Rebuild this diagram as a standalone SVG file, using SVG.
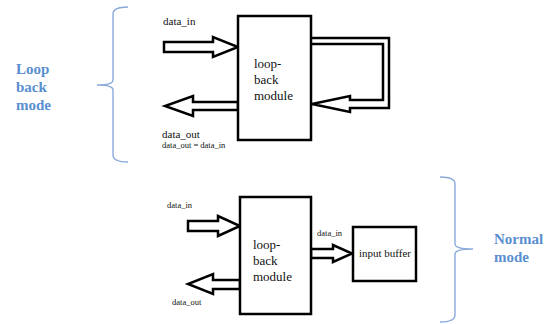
<svg xmlns="http://www.w3.org/2000/svg" width="551" height="324" viewBox="0 0 551 324">
<style>
.box{fill:#fff;stroke:#000;stroke-width:2.5}
.arr{fill:#fff;stroke:#000;stroke-width:2.5;stroke-linejoin:miter}
.brace{fill:none;stroke:#8aaad8;stroke-width:1.4}
text{font-family:"Liberation Serif","Times New Roman",Times,serif}
.t{fill:#111}
.m{font-size:13px}
.s{font-size:11px}
.xs{font-size:8.5px}
.mode{font-weight:bold;font-size:15px;fill:#5a8ed0}
</style>
<rect width="551" height="324" fill="#fff"/>
<g id="loopback-mode-label">
<path class="brace" d="M128,7 Q113,7 113,14 L113,80 Q113,85 97,85 Q113,85 113,90 L113,155 Q113,162 128,162"/>
<text class="mode" x="16" y="74">Loop</text>
<text class="mode" x="16" y="92">back</text>
<text class="mode" x="16" y="110">mode</text>
</g>
<g id="normal-mode-label">
<path class="brace" d="M440,177 Q455,177 455,184 L455,244 Q455,249 473,249 Q455,249 455,254 L455,315 Q455,322 440,322"/>
<text class="mode" x="494" y="244">Normal</text>
<text class="mode" x="494" y="262">mode</text>
</g>
<g id="connectors">
<polygon class="arr" points="164,42 213,42 213,37 238,47 213,57 213,52 164,52"/>
<polygon class="arr" points="238,102 193,102 193,96 165,106 193,116 193,110 238,110"/>
<polyline class="arr" points="311,38 389,38 389,108 350,108 350,112 312,104 350,96 350,100 383,100 383,44 311,44"/>
<polygon class="arr" points="188,221 218,221 218,216 240,226 218,236 218,231 188,231"/>
<polygon class="arr" points="240,280 213,280 213,274 188,284 213,294 213,289 240,289"/>
<polygon class="arr" points="311,249 333,249 333,245 352,253.5 333,262 333,258 311,258"/>
</g>
<g id="loopback-top">
<rect class="box" x="238" y="16" width="73" height="124"/>
<text class="t m" x="254" y="68">loop-</text>
<text class="t m" x="254" y="84">back</text>
<text class="t m" x="254" y="100">module</text>
</g>
<g id="loopback-bottom">
<rect class="box" x="240" y="197" width="71" height="117"/>
<text class="t m" x="253" y="249">loop-</text>
<text class="t m" x="253" y="265">back</text>
<text class="t m" x="253" y="281">module</text>
</g>
<g id="input-buffer">
<rect class="box" x="353" y="227" width="63" height="54"/>
<text class="t s" x="359" y="257">input buffer</text>
</g>
<g id="labels">
<text class="t s" x="163" y="25">data_in</text>
<text class="t s" x="162" y="138">data_out</text>
<text class="t xs" x="162" y="148">data_out = data_in</text>
<text class="t xs" x="167" y="208">data_in</text>
<text class="t xs" x="172" y="305">data_out</text>
<text class="t xs" x="317" y="236">data_in</text>
</g>
</svg>
